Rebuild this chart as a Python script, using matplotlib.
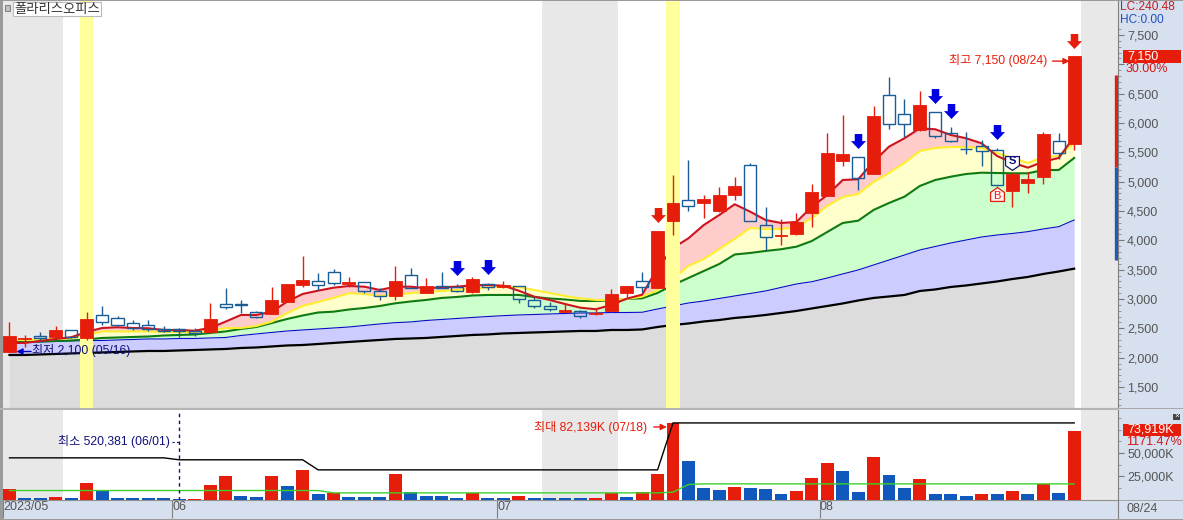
import numpy as np
import matplotlib
matplotlib.use('Agg')
import matplotlib.pyplot as plt
from matplotlib.patches import Rectangle

plt.rcParams['font.family'] = ['Liberation Sans', 'Noto Sans CJK KR', 'DejaVu Sans']

W, H = 1183, 520

# candles: open, high, low, close
opens = [2100, 2310, 2365, 2345, 2470, 2330, 2720, 2670, 2585, 2550, 2495, 2485, 2450, 2440, 2915, 2915, 2785, 2745, 2955, 3240,
         3300, 3455, 3260, 3285, 3140, 3055, 3403, 3108, 3227, 3204, 3119, 3250, 3210, 3216, 2977, 2886, 2784, 2801, 2744, 2801,
         3108, 3301, 3181, 4335, 4682, 4642, 4500, 4778, 5278, 4267, 4079, 4107, 4471, 4761, 5358, 5414, 5130, 6471, 6147, 5880,
         6182, 5824, 5562, 5602, 5534, 4846, 4983, 5085, 5687, 5647]
highs = [2600, 2390, 2430, 2540, 2470, 2780, 2885, 2710, 2640, 2640, 2540, 2500, 2500, 2940, 3180, 2985, 2800, 3210, 3255, 3735,
         3440, 3505, 3380, 3285, 3180, 3570, 3522, 3352, 3454, 3255, 3369, 3278, 3312, 3227, 3039, 2943, 2926, 2812, 2840, 3164,
         3222, 3454, 4159, 5113, 5369, 4772, 4903, 5074, 5312, 4562, 4358, 4471, 4960, 5835, 6136, 5414, 6290, 6778, 6409, 6545,
         6182, 5940, 5841, 5710, 5568, 5142, 5170, 5852, 5824, 7150]
lows = [2100, 2190, 2300, 2330, 2330, 2300, 2555, 2550, 2470, 2460, 2445, 2360, 2370, 2425, 2835, 2765, 2680, 2745, 2955, 3200,
        3155, 3240, 3210, 3095, 2985, 2985, 3180, 3096, 3181, 3119, 3108, 3153, 3181, 2937, 2841, 2801, 2784, 2682, 2727, 2784,
        3028, 3125, 3181, 4091, 4505, 4386, 4488, 4687, 4324, 3835, 3920, 4096, 4221, 4761, 5272, 4858, 5130, 5897, 5755, 5869,
        5750, 5682, 5466, 5267, 4932, 4573, 4801, 4960, 5380, 5539]
closes = [2370, 2330, 2340, 2470, 2345, 2660, 2615, 2550, 2500, 2495, 2450, 2450, 2415, 2660, 2860, 2905, 2690, 2985, 3255, 3325,
          3245, 3265, 3285, 3135, 3045, 3305, 3182, 3221, 3193, 3130, 3335, 3204, 3233, 2994, 2886, 2835, 2806, 2710, 2755, 3085,
          3221, 3199, 4159, 4630, 4591, 4699, 4767, 4926, 4324, 4062, 4096, 4318, 4818, 5483, 5471, 5056, 6119, 5977, 5988, 6307,
          5772, 5687, 5551, 5517, 4937, 5130, 5045, 5806, 5483, 7150]

# moving averages
ma_red = [2251, 2251, 2285, 2319, 2348, 2438, 2506, 2518, 2506, 2501, 2472, 2472, 2460, 2506, 2614, 2728, 2728, 2784, 2955, 3086,
          3142, 3193, 3222, 3210, 3154, 3210, 3210, 3183, 3200, 3210, 3234, 3239, 3227, 3142, 3040, 2984, 2915, 2852, 2825, 2898,
          3006, 3074, 3524, 3870, 4035, 4262, 4432, 4615, 4489, 4347, 4296, 4313, 4574, 4773, 5029, 5041, 5341, 5597, 5740, 5910,
          5893, 5796, 5740, 5654, 5438, 5324, 5239, 5341, 5404, 5767]
ma_yellow = [2302, 2302, 2310, 2319, 2336, 2387, 2447, 2447, 2447, 2447, 2438, 2438, 2438, 2455, 2506, 2506, 2540, 2614, 2762, 2881,
             2949, 3018, 3098, 3086, 3052, 3069, 3103, 3120, 3137, 3154, 3180, 3197, 3205, 3205, 3154, 3103, 3052, 3010, 2984, 2984,
             3001, 3040, 3154, 3342, 3563, 3682, 3853, 4023, 4211, 4194, 4194, 4228, 4381, 4586, 4739, 4790, 4995, 5148, 5319, 5523,
             5574, 5591, 5591, 5574, 5489, 5404, 5319, 5421, 5438, 5660]
ma_green = [2268, 2268, 2276, 2285, 2293, 2310, 2336, 2344, 2353, 2361, 2378, 2387, 2395, 2421, 2447, 2489, 2523, 2591, 2660, 2719,
            2770, 2784, 2821, 2847, 2881, 2927, 2958, 2984, 3018, 3035, 3060, 3069, 3069, 3069, 3035, 3009, 2992, 2967, 2967, 2975,
            3001, 3012, 3103, 3239, 3358, 3478, 3597, 3759, 3785, 3819, 3848, 3892, 3989, 4143, 4296, 4335, 4518, 4637, 4744, 4927,
            5029, 5085, 5131, 5153, 5148, 5143, 5143, 5199, 5199, 5404]
ma_blue = [2268, 2268, 2268, 2276, 2285, 2293, 2293, 2302, 2310, 2319, 2319, 2327, 2327, 2336, 2344, 2378, 2404, 2430, 2455, 2472,
           2489, 2506, 2523, 2549, 2575, 2597, 2609, 2634, 2651, 2668, 2685, 2702, 2716, 2728, 2736, 2745, 2753, 2762, 2762, 2770,
           2770, 2774, 2830, 2881, 2932, 2966, 3009, 3052, 3094, 3137, 3197, 3256, 3295, 3358, 3427, 3495, 3580, 3665, 3750, 3836,
           3895, 3955, 4006, 4057, 4091, 4117, 4148, 4194, 4233, 4347]
ma_black = [2046, 2046, 2055, 2063, 2072, 2080, 2089, 2097, 2106, 2114, 2114, 2123, 2131, 2140, 2148, 2165, 2174, 2191, 2208, 2216,
            2233, 2251, 2268, 2285, 2302, 2319, 2327, 2336, 2353, 2370, 2387, 2396, 2413, 2421, 2430, 2438, 2447, 2455, 2455, 2472,
            2472, 2481, 2523, 2557, 2583, 2617, 2642, 2677, 2699, 2728, 2762, 2796, 2839, 2881, 2924, 2975, 3018, 3043, 3069, 3137,
            3163, 3205, 3231, 3265, 3299, 3341, 3376, 3427, 3469, 3517]

# volume in thousands, 1 = up day
volume = [11800, 1800, 1800, 3200, 1800, 18240, 8940, 1800, 1800, 1800, 1800, 520, 800, 16100, 24700, 4300, 3200, 25750, 15000, 32200,
          5400, 6800, 3200, 3200, 3200, 27900, 8200, 4300, 4300, 2100, 6800, 2100, 2100, 4300, 2100, 2100, 2100, 2100, 2100, 6800,
          3200, 8600, 27900, 82139, 40800, 12900, 10700, 13950, 12900, 11800, 5400, 9650, 23600, 39700, 31100, 8600, 46100, 26800, 12900, 21500,
          6400, 5400, 4300, 6400, 6400, 9650, 5400, 16450, 7500, 73919]
vol_up = [1, 0, 0, 1, 0, 1, 0, 0, 0, 0, 0, 0, 1, 1, 1, 0, 0, 1, 0, 1,
          0, 1, 0, 0, 0, 1, 0, 0, 0, 0, 1, 0, 0, 1, 0, 0, 0, 0, 1, 1,
          0, 1, 1, 1, 0, 0, 0, 1, 0, 0, 0, 1, 1, 1, 0, 0, 1, 0, 0, 1,
          0, 0, 0, 1, 0, 1, 0, 1, 0, 1]
vol_max = [44700] * 11 + [42600] * 9 + [31800] * 23 + [82139] * 27
vol_avg = [9650] * 21 + [7150] * 22 + [7900, 16100] + [16800] * 25

price_ticks = [1500, 2000, 2500, 3000, 3500, 4000, 4500, 5000, 5500, 6000, 6500, 7000, 7500]
price_labels = ['1,500', '2,000', '2,500', '3,000', '3,500', '4,000', '4,500', '5,000', '5,500', '6,000', '6,500', '', '7,500']
month_pos = [-0.4, 10.55, 31.6, 52.5]
month_labels = ['2023/05', '06', '07', '08']

blue_arrow_i = [29, 31, 55, 60, 61, 64]
blue_arrow_p = [3529, 3546, 5694, 6461, 6213, 5847]
red_arrow_i = [42, 69]
red_arrow_p = [4424, 7398]

RED = '#E71D0B'
BLUE = '#1058BC'
CANDLE_BLUE = '#1A5C96'
PANEL = '#D6E0EE'
SHADE = '#E8E8E8'
FRAME = '#9A9A9A'
GREY_TXT = '#555555'
NAVY = '#10107A'
NOTE_SIZE = 8.75
AXIS_SIZE = 9

x = np.arange(len(closes))
opens_a, closes_a = np.array(opens), np.array(closes)
highs_a, lows_a = np.array(highs), np.array(lows)
up = closes_a >= opens_a


def box(px0, py0, px1, py1):
    return [px0 / W, 1 - py1 / H, (px1 - px0) / W, (py1 - py0) / H]


fig = plt.figure(figsize=(W / 100, H / 100), dpi=100, facecolor=PANEL)

# main price panel, index runs with the candles, y with the price
ax = fig.add_axes(box(3, 1, 1118, 408), zorder=2)
ax2 = fig.add_axes(box(3, 410, 1118, 500), zorder=2)
xlim = (-0.421, 71.84)

for a in (ax, ax2):
    a.set_xlim(*xlim)
    a.set_facecolor('white')
    a.yaxis.tick_right()
    for s in a.spines.values():
        s.set_visible(False)
    a.spines['right'].set_visible(True)
    a.spines['right'].set_color('#808080')
    a.spines['bottom'].set_visible(True)
    a.spines['bottom'].set_color('#909090')
    for lo, hi in [(-0.42, 3.47), (34.5, 39.43), (69.44, 71.84)]:
        a.axvspan(lo, hi, color=SHADE, lw=0, zorder=0)

ax.set_ylim(1142, 8080)
ax2.set_ylim(-500, 96000)

# ribbons between the moving averages
xd = x.astype(float)
r, yl, g, b, k = [np.array(v, dtype=float) for v in (ma_red, ma_yellow, ma_green, ma_blue, ma_black)]
ax.fill_between(xd, 1142, k, color='#DCDCDC', lw=0, zorder=1)
ax.fill_between(xd, k, b, color='#CCCCFF', lw=0, zorder=1)
ax.fill_between(xd, b, g, color='#CCFFCC', lw=0, zorder=1)
ax.fill_between(xd, g, yl, color='#FFFFCC', lw=0, zorder=1)
ax.fill_between(xd, yl, r, where=r >= yl, interpolate=True, color='#FFCCCC', lw=0, zorder=1)
ax.fill_between(xd, yl, r, where=r < yl, interpolate=True, color='#FFFFCC', lw=0, zorder=1)

ax.plot(x, k, color='black', lw=1.6, zorder=2)
ax.plot(x, b, color='#0A0ACD', lw=0.8, zorder=2)
ax.plot(x, g, color='#0F7A12', lw=1.5, zorder=2)
ax.plot(x, yl, color='#FFEE30', lw=1.5, zorder=2)
ax.plot(x, r, color='#CC1420', lw=1.5, zorder=2)

# highlighted days
for i in (5, 43):
    ax.axvspan(i - 0.43, i + 0.43, color='#FFFF9C', lw=0, zorder=3)

# candles, the falling ones are hollow and let the ribbons show through
top_body = np.maximum(opens_a, closes_a)
bot_body = np.minimum(opens_a, closes_a)
ax.vlines(x[up], lows_a[up], highs_a[up], color=RED, lw=1, zorder=4)
ax.vlines(x[~up], top_body[~up], highs_a[~up], color=CANDLE_BLUE, lw=1, zorder=4)
ax.vlines(x[~up], lows_a[~up], bot_body[~up], color=CANDLE_BLUE, lw=1, zorder=4)
ax.bar(x[up], (closes_a - opens_a)[up], bottom=opens_a[up], width=0.84, color=RED, linewidth=0.6, edgecolor=RED, zorder=5)
ax.bar(x[~up], (opens_a - closes_a)[~up], bottom=closes_a[~up], width=0.78, facecolor='none', edgecolor=CANDLE_BLUE, linewidth=1, zorder=5)

# signal arrows
arrow = [(-0.5, 1), (0.5, 1), (0.5, 0.05), (1, 0.05), (0, -1), (-1, 0.05), (-0.5, 0.05), (-0.5, 1)]
ax.plot(blue_arrow_i, blue_arrow_p, ls='', marker=arrow, ms=10.8, color='#0000E0', mew=0, zorder=6)
ax.plot(red_arrow_i, red_arrow_p, ls='', marker=arrow, ms=10.8, color=RED, mew=0, zorder=6)

# buy and sell tags
sell_tag = [(-1, 1), (1, 1), (1, -0.3), (0, -1), (-1, -0.3), (-1, 1)]
buy_tag = [(-1, -1), (1, -1), (1, 0.3), (0, 1), (-1, 0.3), (-1, -1)]
ax.plot([65], [5310], marker=sell_tag, ms=10, mfc='white', mec=NAVY, mew=0.9, zorder=7)
ax.text(65, 5345, 'S', color=NAVY, fontsize=8, fontweight='bold', ha='center', va='center', zorder=8)
ax.plot([64], [4785], marker=buy_tag, ms=10, mfc='#FFF0F0', mec=RED, mew=0.9, zorder=7)
ax.text(64, 4755, 'B', color=RED, fontsize=8, ha='center', va='center', zorder=8)

# price annotations
ax.text(67.25, 7060, '최고 7,150 (08/24)', color=RED, fontsize=NOTE_SIZE, ha='right', va='center', zorder=8)
ax.annotate('', xy=(68.7, 7055), xytext=(67.6, 7055), zorder=8,
            arrowprops=dict(arrowstyle='-|>', color=RED, lw=1, mutation_scale=9, shrinkA=0, shrinkB=0))
ax.text(1.45, 2125, '최저 2,100 (05/16)', color=NAVY, fontsize=NOTE_SIZE, ha='left', va='center', zorder=8)
ax.annotate('', xy=(0.45, 2105), xytext=(1.4, 2105), zorder=8,
            arrowprops=dict(arrowstyle='-|>', color='#0000C8', lw=1, mutation_scale=9, shrinkA=0, shrinkB=0))

ax.set_yticks(price_ticks, price_labels)
ax.set_yticks(np.arange(1200, 7700, 100), minor=True)
ax.tick_params(axis='y', which='major', direction='out', length=4, width=0.8, color='#777777', labelsize=AXIS_SIZE, labelcolor=GREY_TXT, pad=2.5)
ax.tick_params(axis='y', which='minor', direction='out', length=2, width=0.6, color='#888888')
ax.set_xticks([])

# range gauge at the right edge of the plot
ax.vlines(71.72, 5250, 6818, color='#D8221A', lw=2.4, zorder=6)
ax.vlines(71.72, 3665, 5250, color='#1C5CB4', lw=2.4, zorder=6)

# volume panel
vol_colors = [RED if v else BLUE for v in vol_up]
ax2.bar(x, volume, width=0.84, color=vol_colors, lw=0, zorder=3)
ax2.plot(x, vol_avg, color='#3CD02C', lw=1, zorder=4)
ax2.plot(x, vol_max, color='black', lw=1, zorder=4)
ax2.axvline(11, color=NAVY, lw=1, ls=(0, (2.5, 2.5)), zorder=5)
ax2.plot([10.55, 10.98], [62000, 62000], color=NAVY, lw=0.8, ls=(0, (2, 2)), zorder=5)
ax2.text(10.4, 62000, '최소 520,381 (06/01)', color=NAVY, fontsize=NOTE_SIZE, ha='right', va='center', zorder=6)
ax2.text(41.35, 77400, '최대 82,139K (07/18)', color=RED, fontsize=NOTE_SIZE, ha='right', va='center', zorder=6)
ax2.annotate('', xy=(42.6, 77800), xytext=(41.75, 77800), zorder=6,
             arrowprops=dict(arrowstyle='-|>', color=RED, lw=1, mutation_scale=9, shrinkA=0, shrinkB=0))

ax2.set_yticks([25000, 50000], ['25,000K', '50,000K'])
ax2.set_yticks([12500, 37500, 62500, 75000, 87500], minor=True)
ax2.tick_params(axis='y', which='major', direction='out', length=4, width=0.8, color='#777777', labelsize=AXIS_SIZE, labelcolor=GREY_TXT, pad=2.5)
ax2.tick_params(axis='y', which='minor', direction='out', length=2, width=0.6, color='#888888')
ax2.set_xticks(month_pos, month_labels)
ax2.tick_params(axis='x', direction='out', length=13, width=0.8, color='#808080', labelsize=AXIS_SIZE, labelcolor=GREY_TXT, pad=-12)
for t in ax2.get_xticklabels():
    t.set_ha('left')

# everything that sits over the panels, in pixel coordinates
top = fig.add_axes([0, 0, 1, 1], zorder=5)
top.set_xlim(0, W)
top.set_ylim(H, 0)
top.axis('off')
top.add_patch(Rectangle((0, 0), 3, H, color=FRAME, lw=0))
top.add_patch(Rectangle((0, 0), W, 1.2, color=FRAME, lw=0))
top.add_patch(Rectangle((0, 408), 1118, 2, color='#B4B4B4', lw=0))
top.add_patch(Rectangle((0, 518.5), W, 1.5, color=FRAME, lw=0))
top.add_patch(Rectangle((1118, 408), 65, 1, color='#A8A8A8', lw=0))
top.add_patch(Rectangle((1118, 500), 65, 1, color='#A8A8A8', lw=0))

top.add_patch(Rectangle((5, 5), 5, 6, fc='#C0C0C0', ec='#808080', lw=0.7))
top.add_patch(Rectangle((13, 2), 88, 14, fc='white', ec='#BBBBBB', lw=0.8))
top.text(57, 10.5, '폴라리스오피스', color='#333333', fontsize=9.6, ha='center', va='center')

top.text(1120, 7, 'LC:240.48', color='#C02020', fontsize=8.6, va='center')
top.text(1120, 20, 'HC:0.00', color='#2050C0', fontsize=8.6, va='center')
top.add_patch(Rectangle((1123, 50), 58, 13, color=RED, lw=0))
top.text(1127, 56.5, '7,150', color='white', fontsize=AXIS_SIZE, va='center')
top.text(1126, 69, '30.00%', color='#D01818', fontsize=AXIS_SIZE, va='center')

top.add_patch(Rectangle((1123, 424), 58, 12, color=RED, lw=0))
top.text(1127, 430, '73,919K', color='white', fontsize=AXIS_SIZE, va='center')
top.text(1126, 442, '1171.47%', color='#D01818', fontsize=AXIS_SIZE, va='center')
top.add_patch(Rectangle((1173, 413.5), 7.5, 6.5, color='#444444', lw=0))
top.text(1176.7, 416.5, '×', color='white', fontsize=6, ha='center', va='center')
top.plot([1118, 1118], [500, 518], color='#808080', lw=0.8)
top.text(1127, 509.5, '08/24', color=GREY_TXT, fontsize=AXIS_SIZE, va='center')

fig.savefig('out.png', dpi=100, facecolor=fig.get_facecolor())
